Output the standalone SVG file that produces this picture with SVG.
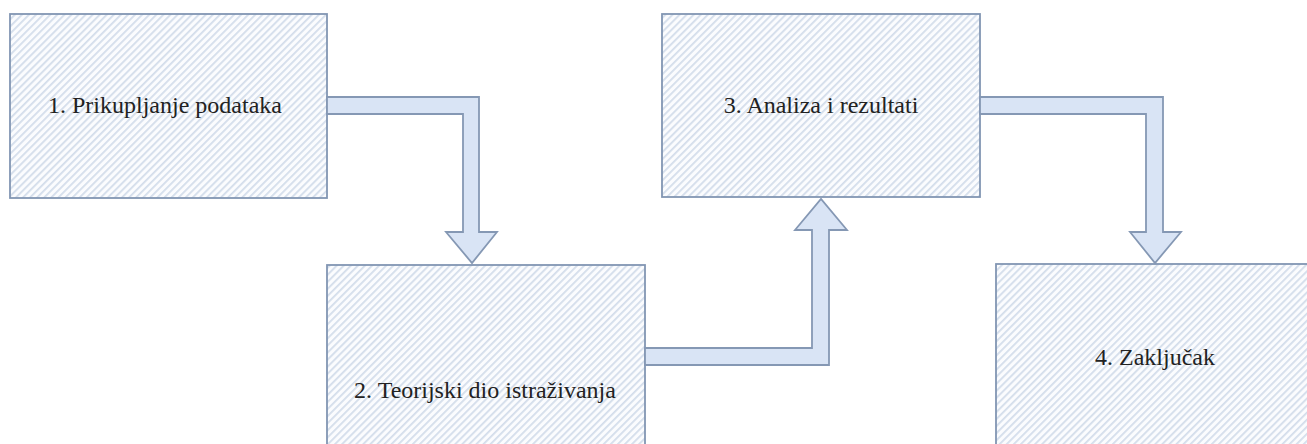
<svg xmlns="http://www.w3.org/2000/svg" width="1307" height="444" viewBox="0 0 1307 444">
  <style>
    .box { fill: url(#hatch); stroke: #8296b3; stroke-width: 1.8; }
    .lbl { font-family: 'Liberation Serif', 'DejaVu Serif', 'Times New Roman', serif; font-size: 24px; fill: #222222; text-anchor: middle; }
    .arrow { fill: #d9e4f5; stroke: #8598b4; stroke-width: 1.8; stroke-linejoin: miter; }
  </style>
  <defs>
    <pattern id="hatch" patternUnits="userSpaceOnUse" width="5" height="5" patternTransform="rotate(45)">
      <rect width="5" height="5" fill="#fbfcfe"/>
      <line x1="0.9" y1="0" x2="0.9" y2="5" stroke="#d3ddeb" stroke-width="1.8"/>
    </pattern>
  </defs>
  <rect width="1307" height="444" fill="#ffffff"/>
  <g id="node1">
    <rect class="box" x="10" y="14" width="317" height="184"/>
    <text class="lbl" x="165" y="113">1. Prikupljanje podataka</text>
  </g>
  <g id="node2">
    <rect class="box" x="327" y="265" width="318" height="200"/>
    <text class="lbl" x="485" y="398">2. Teorijski dio istraživanja</text>
  </g>
  <g id="node3">
    <rect class="box" x="662" y="14" width="318" height="183"/>
    <text class="lbl" x="821" y="113">3. Analiza i rezultati</text>
  </g>
  <g id="node4">
    <rect class="box" x="996" y="264" width="330" height="200"/>
    <text class="lbl" x="1155" y="365">4. Zaključak</text>
  </g>
  <g id="connectors">
    <polygon class="arrow" points="327,97 479,97 479,232 497,232 472,263 446,232 463,232 463,114 327,114"/>
    <polygon class="arrow" points="645,348 812,348 812,230 795,230 821,199 847,230 829,230 829,365 645,365"/>
    <polygon class="arrow" points="980,97 1163,97 1163,232 1181,232 1155,263 1130,232 1146,232 1146,114 980,114"/>
  </g>
</svg>
